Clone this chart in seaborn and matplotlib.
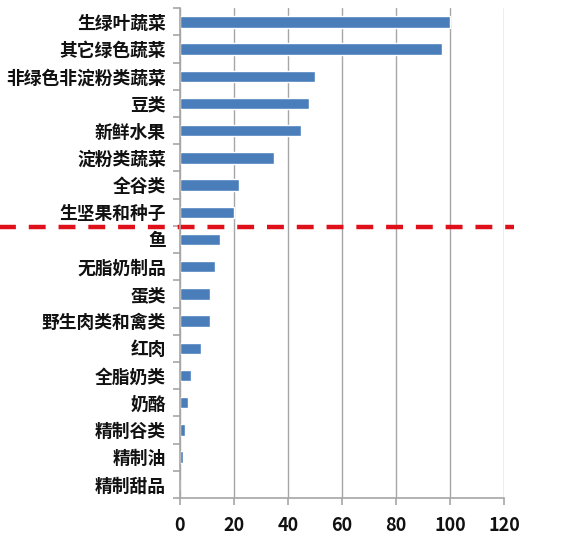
import matplotlib
matplotlib.use("Agg")
import matplotlib.pyplot as plt
import matplotlib.ticker as ticker
import numpy as np
import pandas as pd
import seaborn as sns

# food groups, top to bottom
categories = ["生绿叶蔬菜", "其它绿色蔬菜", "非绿色非淀粉类蔬菜", "豆类", "新鲜水果",
              "淀粉类蔬菜", "全谷类", "生坚果和种子", "鱼", "无脂奶制品", "蛋类",
              "野生肉类和禽类", "红肉", "全脂奶类", "奶酪", "精制谷类", "精制油", "精制甜品"]
scores = [100, 97, 50, 48, 45, 35, 22, 20, 15, 13, 11, 11, 8, 4, 3, 2, 1, 0]
x_ticks = [0, 20, 40, 60, 80, 100, 120]

df = pd.DataFrame({"food": categories, "score": scores})

sns.set_style("white")
plt.rcParams["font.family"] = ["Noto Sans CJK SC", "DejaVu Sans"]

fig = plt.figure(figsize=(5.8, 5.47), dpi=100)
ax = fig.add_axes([0.310, 0.0896, 0.559, 0.8954])

sns.barplot(data=df, x="score", y="food", orient="h", color="#4a7ebb",
            saturation=1, width=0.42, ax=ax)

ax.set_xlim(0, 120)
ax.set_ylim(len(categories) - 0.5, -0.5)
ax.set_xticks(x_ticks)
ax.set_xlabel("")
ax.set_ylabel("")

# vertical gridlines
ax.grid(axis="x", color="#a6a6a6", linewidth=1)
ax.set_axisbelow(True)

# spines
for s in ["top", "right"]:
    ax.spines[s].set_visible(False)
for s in ["left", "bottom"]:
    ax.spines[s].set_color("#a6a6a6")
    ax.spines[s].set_linewidth(1.2)

# ticks between categories on the left axis
ax.yaxis.set_minor_locator(ticker.FixedLocator(np.arange(-0.5, len(categories), 1)))
ax.tick_params(axis="y", which="major", length=0, pad=10, labelsize=12.8)
ax.tick_params(axis="y", which="minor", length=5, color="#a6a6a6", width=1.2, left=True)
ax.tick_params(axis="x", which="major", length=5, color="#a6a6a6", width=1.2,
               bottom=True, pad=8, labelsize=13)
for lab in ax.get_yticklabels() + ax.get_xticklabels():
    lab.set_fontweight("bold")
    lab.set_color("#111111")

# red dashed divider across the whole width
ax.axhline(7.55, xmin=-0.56, xmax=1.03, clip_on=False, color="#e0101a",
           linewidth=3.2, linestyle=(0, (3.8, 2.9)))

plt.savefig("out.png", dpi=100)
plt.close()
